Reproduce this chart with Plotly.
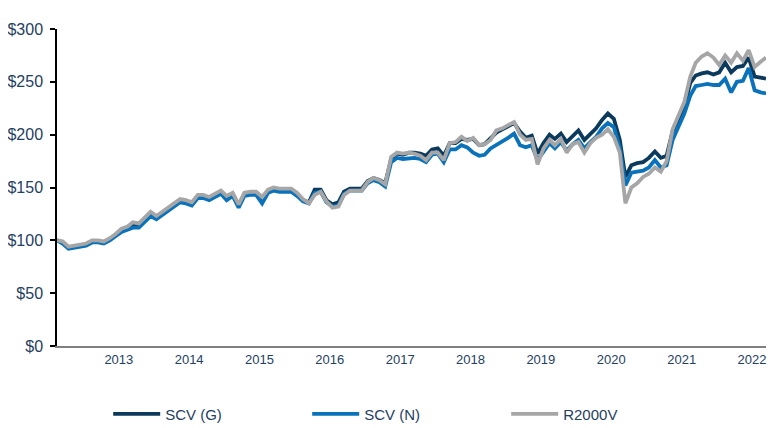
import pandas as pd
import plotly.graph_objects as go

# Monthly observations, Feb 2012 .. Mar 2022 (plotted mid-month)
dates = pd.date_range("2012-02-01", "2022-03-01", freq="MS") + pd.Timedelta(days=14)

scv_g = [100, 98, 93, 94, 95, 96, 99, 99, 98, 101,
         105, 109, 112, 115, 114, 119, 125, 121, 125, 129,
         133, 138, 137, 135, 142, 142, 140, 143, 146, 141,
         144, 133, 144, 145, 145, 139, 147, 149, 148, 148,
         148, 144, 138, 136, 148, 148, 138, 134, 136, 146,
         149, 149, 149, 156, 159, 157, 154, 177, 182, 181,
         183, 183, 182, 180, 186, 187, 180, 192, 192, 196,
         195, 196, 190, 191, 196, 202, 205, 208, 211, 203,
         197, 199, 182, 192, 200, 196, 201, 193, 199, 204,
         195, 201, 206, 214, 220, 215, 195, 160, 171, 173,
         174, 178, 184, 178, 180, 203, 215, 226, 249, 256,
         258, 259, 257, 259, 268, 259, 264, 265, 273, 255,
         254, 253]

scv_n = [100, 97, 92, 93, 94, 95, 98, 98, 97, 100,
         104, 108, 110, 112, 112, 117, 123, 120, 124, 128,
         131, 136, 135, 133, 140, 140, 138, 141, 144, 138,
         142, 131, 142, 143, 143, 135, 145, 147, 146, 146,
         146, 142, 137, 135, 145, 146, 136, 132, 133, 144,
         147, 147, 147, 154, 157, 155, 151, 174, 178, 177,
         178, 178, 177, 174, 181, 182, 174, 186, 186, 190,
         188, 183, 180, 181, 187, 190, 193, 197, 201, 190,
         188, 190, 176, 184, 192, 187, 193, 185, 191, 195,
         187, 193, 198, 206, 211, 207, 188, 152, 164, 165,
         166, 169, 176, 169, 171, 195, 207, 220, 237, 246,
         247, 248, 247, 247, 253, 240, 250, 251, 263, 242,
         240, 239]

r2000v = [100, 99, 94, 95, 96, 97, 100, 100, 99, 102,
          106, 111, 113, 117, 116, 121, 127, 123, 127, 131,
          134, 139, 138, 136, 143, 143, 141, 144, 147, 142,
          145, 134, 145, 146, 146, 141, 148, 150, 149, 149,
          149, 145, 139, 135, 143, 146, 137, 131, 132, 143,
          147, 147, 147, 155, 159, 157, 153, 179, 183, 182,
          183, 182, 180, 176, 183, 183, 176, 192, 193, 198,
          194, 197, 190, 191, 195, 204, 206, 209, 212, 200,
          195, 196, 172, 187, 195, 190, 196, 183, 191, 193,
          183, 192, 197, 200, 205, 198, 183, 135, 150, 154,
          160, 163, 169, 165, 175, 205, 218, 231, 255, 268,
          274, 277, 273, 266, 275, 268, 277, 270, 280, 264,
          269, 273]

series_names = ["SCV (G)", "SCV (N)", "R2000V"]
series_colors = ["#0B3A5C", "#0A72BA", "#A6A6A6"]

year_labels = [str(y) for y in range(2013, 2023)]
year_ticks = [f"{y}-01-01" for y in year_labels]

y_ticks = [0, 50, 100, 150, 200, 250, 300]
y_labels = [f"${v}" for v in y_ticks]

text_color = "#24405F"
font_family = "Liberation Sans, Arial, sans-serif"

fig = go.Figure()
for name, vals, col in zip(series_names, [scv_g, scv_n, r2000v], series_colors):
    fig.add_trace(go.Scatter(
        x=dates, y=vals, name=name, mode="lines",
        line=dict(color=col, width=3.8),
    ))

# page has an 8px body margin; keep the figure inside the visible window
fig.update_layout(
    width=759, height=420,
    margin=dict(l=49, r=1, t=21, b=82),
    paper_bgcolor="white", plot_bgcolor="white",
    font=dict(family=font_family, color=text_color),
    showlegend=True,
    legend=dict(
        orientation="h", xref="container", yref="container",
        x=0.132, y=0.033, xanchor="left", yanchor="middle",
        entrywidth=137, entrywidthmode="pixels",
        itemwidth=47,
        font=dict(size=15, color=text_color, family=font_family),
        bgcolor="rgba(0,0,0,0)",
    ),
)

fig.update_xaxes(
    range=[dates[0], dates[-1]],
    tickvals=year_ticks, ticktext=year_labels,
    showgrid=False, zeroline=False, automargin=False,
    showline=True, linecolor="#7F7F7F", linewidth=2,
    ticks="", ticklabeloverflow="allow",
    tickfont=dict(size=13, color=text_color),
)
fig.update_yaxes(
    range=[0, 300], tickvals=y_ticks, ticktext=y_labels,
    showgrid=False, zeroline=False, automargin=False,
    showline=True, linecolor="#000000", linewidth=1.5,
    ticks="outside", ticklen=5, tickcolor="#000000", tickwidth=1.5,
    ticklabelstandoff=4,
    tickfont=dict(size=16, color=text_color),
)

fig.write_html("out.html")
